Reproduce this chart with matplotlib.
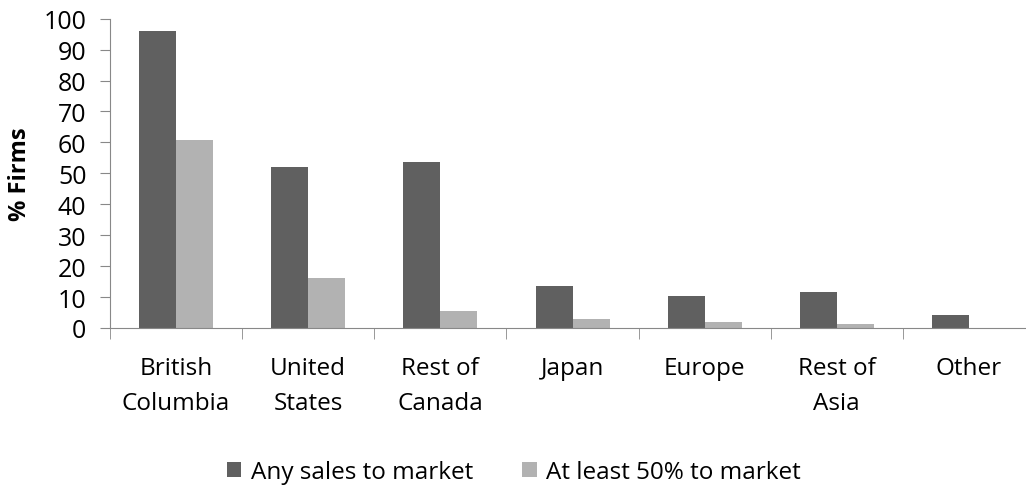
import numpy as np
import matplotlib.pyplot as plt

plt.rcParams['font.family'] = ['Open Sans', 'DejaVu Sans']

regions = ['British\nColumbia', 'United\nStates', 'Rest of\nCanada', 'Japan',
           'Europe', 'Rest of\nAsia', 'Other']
any_sales = [96.0, 52.1, 53.6, 13.6, 10.3, 11.6, 4.2]
half_sales = [60.9, 16.3, 5.5, 2.8, 2.0, 1.4, 0.0]
yticks = [0, 10, 20, 30, 40, 50, 60, 70, 80, 90, 100]

fig = plt.figure(figsize=(10.26, 4.89), dpi=100)
ax = fig.add_axes([110 / 1026, 160 / 489, 925 / 1026, 309.3 / 489])

x = np.arange(len(regions)) + 0.5
w = 0.28
ax.bar(x - w / 2, any_sales, w, color='#606060', label='Any sales to market')
ax.bar(x + w / 2, half_sales, w, color='#b2b2b2', label='At least 50% to market')

ax.set_xlim(0, 7)
ax.set_ylim(0, 100)
ax.set_yticks(yticks)
ax.set_xticks(x)
ax.set_xticklabels(regions, fontsize=17.5, linespacing=1.6)
ax.set_xticks(np.arange(0, 8), minor=True)
ax.tick_params(axis='x', which='major', length=0, pad=20)
ax.tick_params(axis='x', which='minor', length=8, color='#888888')
ax.tick_params(axis='y', length=7, color='#888888', labelsize=18, pad=10)
ax.set_ylabel('% Firms', fontsize=17, fontweight='bold')
ax.yaxis.set_label_coords(-0.084, 0.5)

for s in ['top', 'right']:
    ax.spines[s].set_visible(False)
for s in ['left', 'bottom']:
    ax.spines[s].set_color('#888888')

fig.legend(loc='center', bbox_to_anchor=(514 / 1026, 1 - 473 / 489), ncol=2,
           frameon=False, fontsize=17.5, handlelength=0.6, handleheight=0.6,
           handletextpad=0.4, columnspacing=2.0)

fig.savefig('out.png', dpi=100)
